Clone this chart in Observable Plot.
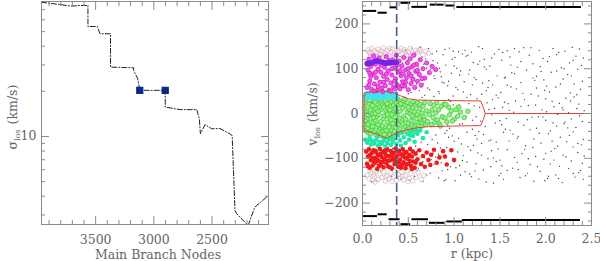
<!DOCTYPE html>
<html>
<head>
<meta charset="utf-8">
<script src="https://cdn.jsdelivr.net/npm/d3@7"></script>
<script src="https://cdn.jsdelivr.net/npm/@observablehq/plot@0.6"></script>
<style>
  html, body { margin: 0; padding: 0; background: #fff; }
  #wrap { display: flex; width: 600px; height: 261px; }
  #wrap svg { display: block; }
</style>
</head>
<body>
<div id="wrap"></div>
<script>
// ---------- LEFT PANEL DATA ----------
const nodes = [3964, 3814, 3714, 3628, 3566, 3566, 3485, 3463, 3386, 3372, 3372, 3173, 3173, 3138, 3121, 2902, 2902, 2774, 2631, 2609, 2600, 2560, 2503, 2432, 2346, 2327, 2303, 2289, 2190, 2133, 2015];
const sigma = [78.5, 75.9, 74.0, 74.7, 74.7, 54.1, 54.1, 48.4, 48.4, 48.4, 29.0, 28.7, 27.5, 24.2, 20.3, 20.3, 15.7, 15.1, 15.1, 13.1, 10.4, 12.0, 11.25, 11.3, 10.4, 10.15, 3.21, 3.06, 2.55, 3.38, 4.04];
const squareNodes = [3121, 2902];
const squareSigma = [20.3, 20.3];
const nodeMajorTicks = [3500, 3000, 2500];
const nodeMinorTicks = [2100, 2200, 2300, 2400, 2600, 2700, 2800, 2900, 3100, 3200, 3300, 3400, 3600, 3700, 3800, 3900];
const sigmaMajorTicks = [10];
const sigmaMinorTicks = [3, 4, 5, 6, 7, 8, 9, 20, 30, 40, 50, 60, 70];

// ---------- RIGHT PANEL DATA ----------
const rMajorTicks = [0, 0.5, 1, 1.5, 2, 2.5];
const rMinorTicks = [0.1, 0.2, 0.3, 0.4, 0.6, 0.7, 0.8, 0.9, 1.1, 1.2, 1.3, 1.4, 1.6, 1.7, 1.8, 1.9, 2.1, 2.2, 2.3, 2.4];
const vMajorTicks = [-200, -100, 0, 100, 200];
const vMinorTicks = [-240, -220, -180, -160, -140, -120, -80, -60, -40, -20, 20, 40, 60, 80, 120, 140, 160, 180, 220, 240];

const escTopR0 = [0.0, 0.17, 0.30, 0.42, 0.54, 0.74, 0.91, 1.03];
const escTopR1 = [0.155, 0.27, 0.38, 0.525, 0.71, 0.89, 1.01, 2.39];
const escTopV = [229, 225, 237, 247, 238, 243, 241, 238];
const escBotR0 = [0.0, 0.17, 0.29, 0.42, 0.54, 0.73, 0.92, 1.09];
const escBotR1 = [0.163, 0.27, 0.41, 0.525, 0.72, 0.9, 1.09, 2.38];
const escBotV = [-229, -225, -236, -247, -236, -244, -241, -238];

const rCut = [0.373];

const redTop = [[0.017,44],[0.04,47],[0.13,48],[0.2,52],[0.24,50],[0.3,48],[0.36,45],[0.42,39],[0.5,33],[0.6,30],[0.85,29],[1.29,28],[1.32,13],[1.34,0]];
const redBot = [[0.017,-38],[0.127,-44],[0.2,-50],[0.235,-53],[0.27,-55],[0.326,-48],[0.38,-43],[0.45,-38],[0.56,-33],[0.71,-29.5],[1.0,-28],[1.29,-27],[1.32,-13],[1.34,0]];
const redTail = [[2.5,0],[1.34,0]];

const blackDots = [
[0.47,142],[0.63,148],[0.81,139],[0.95,146],[1.12,141],[1.27,149],[1.49,143],[1.58,140],[1.76,147],[1.93,141],[2.08,145],[2.21,139],[2.37,144],[0.72,145],[1.05,138],[1.66,145],[2.29,148],
[0.41,127],[0.58,135],[0.69,122],[0.88,131],[1.01,125],[1.19,137],[1.33,121],[1.44,133],[1.61,126],[1.82,130],[1.97,123],[2.14,136],[2.33,128],[0.52,121],[1.09,133],[1.71,138],[2.41,124],[0.99,139],
[0.44,112],[0.61,104],[0.77,118],[0.91,108],[1.03,101],[1.21,114],[1.39,106],[1.52,119],[1.69,103],[1.86,111],[2.02,116],[2.17,102],[2.26,113],[2.39,107],[0.67,110],[1.28,117],[1.94,105],[0.84,101],
[0.39,93],[0.55,86],[0.74,98],[0.86,82],[1.07,95],[1.16,88],[1.35,99],[1.47,84],[1.63,91],[1.79,97],[1.9,83],[2.06,92],[2.24,87],[2.35,99],[0.97,90],[1.56,81],[2.12,95],[0.62,83],
[0.42,73],[0.66,67],[0.79,78],[0.93,62],[1.11,71],[1.24,76],[1.42,64],[1.55,79],[1.73,69],[1.88,74],[2.01,61],[2.19,77],[2.31,66],[2.4,72],[0.57,79],[1.31,68],[1.98,75],[0.87,70],
[0.5,44],[0.71,57],[0.83,49],[1.04,53],[1.18,42],[1.37,58],[1.51,47],[1.68,55],[1.84,43],[1.99,52],[2.11,59],[2.27,46],[2.38,54],[0.62,51],[1.46,41],[2.04,48],[1.62,59],
[0.46,33],[0.78,38],[0.94,31],[1.14,36],[1.36,24],[1.48,35],[1.59,22],[1.77,31],[1.92,39],[2.07,27],[2.22,34],[2.36,21],[0.65,36],[1.25,33],[1.67,28],[2.15,23],[2.31,37],
[0.81,12],[1.08,5],[1.22,17],[1.38,9],[1.53,14],[1.65,3],[1.81,18],[1.96,8],[2.09,15],[2.25,2],[2.34,11],[2.42,6],[0.99,19],[1.44,11],[1.73,16],[2.01,4],[2.18,13],
[0.88,-13],[1.13,-6],[1.29,-17],[1.41,-3],[1.57,-11],[1.7,-19],[1.85,-8],[2.0,-15],[2.13,-2],[2.28,-12],[2.4,-18],[0.73,-4],[1.02,-9],[1.5,-16],[1.92,-7],[2.21,-19],[2.37,-5],
[0.48,-32],[0.69,-27],[0.92,-38],[1.06,-24],[1.2,-35],[1.34,-29],[1.45,-21],[1.61,-37],[1.76,-26],[1.9,-33],[2.05,-39],[2.2,-23],[2.33,-31],[0.56,-22],[1.27,-40],[1.83,-36],[2.12,-28],
[0.4,-52],[0.6,-47],[0.76,-58],[0.9,-44],[1.05,-55],[1.23,-49],[1.4,-59],[1.54,-42],[1.7,-51],[1.87,-57],[2.03,-45],[2.16,-53],[2.3,-41],[2.41,-58],[0.98,-50],[1.64,-46],[2.26,-49],
[0.43,-71],[0.64,-64],[0.85,-77],[1.0,-62],[1.15,-74],[1.3,-67],[1.48,-79],[1.6,-61],[1.78,-72],[1.95,-66],[2.1,-78],[2.23,-63],[2.39,-70],[0.71,-69],[1.38,-61],[1.86,-76],[2.3,-75],[0.55,-62],
[0.37,-92],[0.59,-85],[0.8,-97],[0.97,-83],[1.1,-94],[1.26,-88],[1.43,-99],[1.58,-81],[1.74,-90],[1.89,-96],[2.06,-84],[2.19,-93],[2.35,-87],[1.18,-82],[1.66,-98],[2.0,-89],[2.42,-95],[0.68,-99],
[0.45,-108],[0.63,-116],[0.75,-103],[0.96,-119],[1.09,-105],[1.24,-112],[1.37,-101],[1.52,-117],[1.69,-109],[1.83,-114],[1.98,-102],[2.15,-118],[2.28,-106],[2.4,-111],[0.86,-110],[1.46,-107],[1.91,-119],[2.09,-104],
[0.38,-131],[0.53,-124],[0.7,-137],[0.87,-128],[1.02,-121],[1.17,-135],[1.32,-126],[1.49,-139],[1.64,-122],[1.8,-133],[1.94,-129],[2.11,-137],[2.25,-123],[2.36,-132],[1.12,-130],[1.58,-127],[2.03,-140],[0.61,-122],
[0.42,-146],[0.66,-152],[0.83,-144],[1.01,-150],[1.19,-141],[1.35,-153],[1.54,-147],[1.72,-143],[1.87,-151],[2.02,-145],[2.18,-154],[2.32,-142],[0.91,-148],[1.43,-155],[1.99,-150],[2.41,-147],[0.51,-149],
[0.12,-78],[0.2,-128],[0.28,-76],[0.15,-150],[0.25,-79],[0.06,-77],[0.32,-140],[0.33,-78],[0.1,-152],
[0.54,146],[0.76,133],[0.9,143],[1.15,130],[1.31,145],[1.53,136],[1.84,147],[2.12,131],
[0.49,118],[0.65,126],[0.82,113],[0.98,121],[1.13,128],[1.26,110],[1.41,124],[1.73,116],[2.04,127],[2.3,119],
[0.43,96],[0.6,109],[0.7,101],[0.85,93],[1.0,106],[1.17,97],[1.33,104],[1.62,108],[1.95,94],[2.2,100],
[0.47,88],[0.64,75],[0.78,84],[0.94,72],[1.06,86],[1.22,80],[1.38,73],[1.66,89],[1.86,79],[2.28,84],
[0.44,61],[0.59,66],[0.73,53],[0.89,68],[1.02,58],[1.2,64],[1.35,51],[1.58,63],[1.9,57],[2.16,66],
[0.53,47],[0.68,41],[0.84,45],[0.99,39],[1.1,48],[1.3,43],[1.42,31],[1.75,45],[2.0,33],[2.34,42],
[0.96,27],[1.16,22],[1.28,14],[1.55,25],[1.89,19],[2.27,28],[1.24,-7],[1.6,7],[1.97,-8],[2.19,8],
[0.93,-26],[1.09,-23],[1.2,-15],[1.52,-25],[1.8,-14],[2.08,-21],
[0.45,-44],[0.62,-39],[0.8,-48],[0.95,-33],[1.14,-42],[1.32,-47],[1.56,-35],[1.93,-44],[2.24,-32],
[0.49,-61],[0.67,-55],[0.82,-66],[0.94,-53],[1.08,-68],[1.25,-57],[1.46,-64],[1.69,-55],[2.07,-62],[2.35,-67],
[0.41,-84],[0.58,-73],[0.77,-88],[0.92,-76],[1.04,-86],[1.21,-71],[1.41,-83],[1.77,-80],[2.13,-73],
[0.5,-94],[0.66,-107],[0.83,-91],[0.99,-100],[1.14,-108],[1.3,-93],[1.5,-104],[1.81,-101],[2.22,-97],
[0.46,-121],[0.6,-127],[0.78,-113],[0.93,-125],[1.06,-116],[1.23,-128],[1.4,-119],[1.7,-125],[2.05,-113],[2.38,-127],
[0.57,-141],[0.74,-133],[0.89,-150],[1.07,-138],[1.27,-146],[1.51,-134],[1.78,-139],[2.14,-145],[2.3,-134]
];

const pinkTop = [[0.06,142],[0.08,135],[0.1,145],[0.12,130],[0.13,140],[0.15,136],[0.17,144],[0.19,131],[0.21,139],[0.23,146],[0.25,133],[0.27,141],[0.29,129],[0.31,137],[0.33,144],[0.35,132],[0.4,140],[0.42,145],[0.44,134],[0.46,142],[0.48,130],[0.5,138],[0.52,145],[0.55,133],[0.58,141],[0.6,136],[0.63,144],[0.66,131],[0.69,139],[0.72,135],[0.09,128],[0.16,128],[0.24,128],[0.38,136],[0.53,128],[0.07,138],[0.2,134],[0.3,145],[0.47,136],[0.62,140]];

const pinkBottom = [[0.05,-138],[0.07,-145],[0.09,-132],[0.11,-150],[0.13,-140],[0.15,-128],[0.17,-147],[0.19,-135],[0.21,-143],[0.23,-130],[0.25,-151],[0.27,-138],[0.29,-146],[0.31,-133],[0.33,-141],[0.35,-128],[0.37,-149],[0.39,-136],[0.41,-144],[0.43,-131],[0.45,-148],[0.47,-139],[0.49,-127],[0.51,-145],[0.53,-134],[0.55,-150],[0.58,-142],[0.61,-131],[0.64,-147],[0.67,-138],[0.08,-127],[0.14,-153],[0.2,-126],[0.26,-141],[0.32,-152],[0.38,-125],[0.44,-139],[0.5,-152],[0.56,-128],[0.12,-136]];

const magenta = [[0.05,58],[0.06,97],[0.07,121],[0.08,73],[0.09,105],[0.1,54],[0.11,88],[0.12,128],[0.13,66],[0.14,110],[0.15,80],[0.16,51],[0.17,99],[0.18,124],[0.19,70],[0.2,92],[0.21,57],[0.22,115],[0.23,83],[0.24,103],[0.25,62],[0.26,127],[0.27,76],[0.28,95],[0.29,52],[0.3,112],[0.31,68],[0.32,86],[0.33,120],[0.34,59],[0.35,101],[0.36,78],[0.37,130],[0.38,64],[0.39,93],[0.4,117],[0.41,55],[0.42,84],[0.43,106],[0.44,71],[0.45,125],[0.46,61],[0.47,97],[0.48,80],[0.49,113],[0.5,53],[0.51,89],[0.52,122],[0.53,67],[0.54,104],[0.55,76],[0.56,130],[0.57,58],[0.58,94],[0.59,110],[0.6,72],[0.62,87],[0.63,120],[0.64,63],[0.66,100],[0.68,79],[0.7,113],[0.73,91],[0.76,105],[0.8,98],[0.07,64],[0.09,83],[0.11,114],[0.14,92],[0.17,60],[0.2,108],[0.23,70],[0.26,88],[0.29,118],[0.32,100],[0.35,72],[0.38,108],[0.41,96],[0.44,88],[0.47,70],[0.5,100],[0.53,84],[0.56,108],[0.6,96],[0.65,78],[0.13,50],[0.22,49],[0.31,50],[0.05,110],[0.08,90],[0.43,62],[0.36,55]];

const purple = [[0.05,112],[0.07,113],[0.09,112],[0.11,114],[0.13,117],[0.15,118],[0.17,117],[0.19,116],[0.21,115],[0.23,114],[0.25,113],[0.27,113],[0.29,114],[0.31,113],[0.33,114],[0.35,115],[0.37,114],[0.06,111],[0.14,116],[0.26,112],[0.34,113]];

const cyan = [[0.03,38],[0.04,44],[0.05,41],[0.06,35],[0.07,46],[0.08,39],[0.09,43],[0.1,36],[0.11,45],[0.12,40],[0.13,34],[0.14,47],[0.15,42],[0.16,37],[0.17,44],[0.18,39],[0.19,46],[0.2,35],[0.21,41],[0.22,45],[0.23,38],[0.24,43],[0.25,36],[0.26,46],[0.27,40],[0.28,44],[0.29,37],[0.3,42],[0.31,45],[0.32,39],[0.33,43],[0.34,36],[0.35,41],[0.36,44],[0.37,39]];

const green = [
[0.02,-30],[0.02,12],[0.03,-8],[0.03,27],[0.04,-40],[0.04,3],[0.05,-19],[0.05,31],[0.06,-33],[0.06,15],[0.07,-4],[0.07,-44],[0.08,22],[0.08,-26],[0.09,8],[0.09,-12],[0.1,29],[0.1,-37],[0.11,-1],[0.11,18],[0.12,-22],[0.12,33],[0.13,-42],[0.13,6],[0.14,-15],[0.14,25],[0.15,-30],[0.15,11],[0.16,-7],[0.16,-47],[0.17,20],[0.17,-25],[0.18,32],[0.18,-2],[0.19,-36],[0.19,14],[0.2,-18],[0.2,26],[0.03,-17],[0.06,-24],[0.09,-45],[0.12,-9],[0.15,-48],[0.18,-40],[0.08,30],[0.11,-29],[0.14,0],[0.17,5],[0.2,-44],[0.05,-2],
[0.21,-50],[0.21,9],[0.22,-28],[0.22,30],[0.23,-11],[0.23,-40],[0.24,17],[0.24,-5],[0.25,-33],[0.25,28],[0.26,-52],[0.26,2],[0.27,-20],[0.27,22],[0.28,-44],[0.28,11],[0.29,-8],[0.29,32],[0.3,-27],[0.3,-48],[0.31,16],[0.31,-14],[0.32,26],[0.32,-37],[0.33,4],[0.33,-23],[0.34,19],[0.34,-45],[0.35,-3],[0.35,30],[0.36,-31],[0.36,10],[0.37,-16],[0.37,24],[0.38,-41],[0.38,1],[0.39,-24],[0.39,18],[0.4,-10],[0.4,29],[0.23,14],[0.26,-38],[0.29,-30],[0.32,-2],[0.35,-40],[0.38,33],[0.24,-47],[0.3,8],[0.36,-8],[0.27,-2],
[0.41,-35],[0.41,5],[0.42,22],[0.43,-19],[0.43,-42],[0.44,12],[0.45,-6],[0.45,28],[0.46,-29],[0.47,-13],[0.47,18],[0.48,-38],[0.49,3],[0.49,25],[0.5,-22],[0.51,9],[0.51,-33],[0.52,-1],[0.53,21],[0.53,-16],[0.54,-28],[0.55,13],[0.55,27],[0.56,-9],[0.57,-31],[0.57,4],[0.58,19],[0.59,-20],[0.6,-3],[0.6,24],[0.61,-26],[0.62,10],[0.63,-14],[0.63,20],[0.64,-29],[0.65,1],[0.66,16],[0.66,-21],[0.67,-7],[0.68,25],[0.69,-24],[0.7,6],[0.44,-24],[0.5,14],[0.56,-40],[0.62,-10],[0.46,32],[0.54,-5],[0.58,-37],[0.68,-15],
[0.71,-18],[0.73,-2],[0.74,22],[0.76,8],[0.78,18],[0.79,-20],[0.81,24],[0.82,-14],[0.84,-23],[0.86,16],[0.87,-7],[0.89,21],[0.9,-10],[0.92,-19],[0.94,14],[0.95,-3],[0.97,6],[1.0,-13],[1.02,9],[1.04,-6],[1.07,3],[1.11,-9],[1.15,5],[0.75,-25],[0.8,1],[0.85,-28],[0.91,20],[0.98,-17],[1.05,15],[0.77,-9],[0.83,8]
];

const aqua = [[0.03,-58],[0.05,-65],[0.07,-60],[0.09,-70],[0.11,-62],[0.13,-67],[0.15,-59],[0.17,-72],[0.19,-64],[0.21,-68],[0.23,-61],[0.25,-74],[0.27,-66],[0.29,-58],[0.31,-70],[0.33,-63],[0.35,-56],[0.37,-68],[0.39,-48],[0.41,-60],[0.43,-42],[0.45,-53],[0.47,-66],[0.49,-45],[0.51,-58],[0.53,-40],[0.55,-50],[0.57,-63],[0.6,-45],[0.63,-38],[0.66,-55],[0.7,-42],[0.08,-55],[0.16,-53],[0.24,-57],[0.32,-55],[0.42,-72],[0.52,-48],[0.58,-38]];

const red = [[0.04,-85],[0.05,-112],[0.06,-96],[0.07,-80],[0.08,-121],[0.09,-104],[0.1,-89],[0.11,-116],[0.12,-82],[0.13,-99],[0.14,-110],[0.15,-87],[0.16,-124],[0.17,-93],[0.18,-106],[0.19,-79],[0.2,-114],[0.21,-97],[0.22,-86],[0.23,-120],[0.24,-102],[0.25,-90],[0.26,-111],[0.27,-81],[0.28,-118],[0.29,-95],[0.3,-105],[0.31,-84],[0.32,-123],[0.33,-100],[0.34,-88],[0.35,-113],[0.36,-78],[0.37,-108],[0.38,-94],[0.39,-119],[0.4,-83],[0.41,-103],[0.42,-91],[0.43,-115],[0.44,-80],[0.45,-109],[0.46,-98],[0.47,-122],[0.48,-86],[0.49,-101],[0.5,-112],[0.51,-92],[0.52,-79],[0.53,-117],[0.54,-96],[0.55,-85],[0.56,-107],[0.57,-121],[0.58,-90],[0.6,-102],[0.62,-82],[0.64,-113],[0.66,-95],[0.68,-119],[0.7,-87],[0.72,-104],[0.75,-92],[0.78,-81],[0.81,-110],[0.84,-98],[0.88,-84],[0.92,-114],[0.97,-82],[1.0,-104],[0.06,-118],[0.1,-100],[0.14,-83],[0.18,-117],[0.22,-108],[0.26,-95],[0.3,-120],[0.34,-103],[0.38,-84],[0.42,-121],[0.46,-88],[0.5,-96],[0.54,-124],[0.58,-110],[0.08,-93],[0.16,-102],[0.24,-83],[0.32,-92],[0.4,-110],[0.48,-114],[0.12,-107],[0.2,-90],[0.28,-105],[0.36,-98],[0.44,-95],[0.52,-106],[0.9,-96],[0.74,-115]];

// ---------- STYLES ----------
const FRAME = "#8a8a8a";
const TEXT = "#666";
const FONT = "DejaVu Serif";
const baseStyle = {fontFamily: FONT, fontSize: "12.5px", color: TEXT, background: "#fff", overflow: "visible"};
const minus = d => (d < 0 ? "\u2212" + Math.abs(d) : String(d));

function tickMarks(axis, anchor, major, minor) {
  const A = axis === "x" ? Plot.axisX : Plot.axisY;
  return [
    A({ticks: minor, anchor, tickSize: -4, fill: "none", stroke: FRAME, label: null}),
    A({ticks: major, anchor, tickSize: -8, fill: "none", stroke: FRAME, label: null})
  ];
}

// ---------- LEFT PANEL ----------
const lineData = nodes.map((n, i) => ({n, s: sigma[i]}));
const sqData = squareNodes.map((n, i) => ({n, s: squareSigma[i]}));

const left = Plot.plot({
  width: 300, height: 261,
  marginLeft: 41, marginRight: 32, marginTop: 1, marginBottom: 37,
  style: baseStyle,
  x: {domain: [3965, 2015]},
  y: {type: "log", domain: [2.59, 79.4]},
  marks: [
    Plot.line(lineData, {x: "n", y: "s", stroke: "#222", strokeWidth: 1, strokeDasharray: "5,2,1,2", clip: true}),
    Plot.dot(sqData, {x: "n", y: "s", symbol: "square", r: 4.1, fill: "#0c2a84", stroke: "none"}),
    Plot.frame({stroke: FRAME}),
    ...tickMarks("x", "bottom", nodeMajorTicks, nodeMinorTicks),
    ...tickMarks("x", "top", nodeMajorTicks, nodeMinorTicks),
    ...tickMarks("y", "left", sigmaMajorTicks, sigmaMinorTicks),
    ...tickMarks("y", "right", sigmaMajorTicks, sigmaMinorTicks),
    Plot.axisX({ticks: nodeMajorTicks, anchor: "bottom", tickSize: 0, tickPadding: 11, tickFormat: d => String(d), label: null, fill: TEXT}),
    Plot.axisY({ticks: sigmaMajorTicks, anchor: "left", tickSize: 0, tickPadding: 5, tickFormat: d => String(d), label: null, fill: TEXT})
  ]
});

// ---------- RIGHT PANEL ----------
const escTop = escTopR0.map((r0, i) => ({r0, r1: escTopR1[i], v: escTopV[i]}));
const escBot = escBotR0.map((r0, i) => ({r0, r1: escBotR1[i], v: escBotV[i]}));
const redPath = [...redTail, ...redTop.slice().reverse(), ...redBot];
const X = d => d[0], Y = d => d[1];

const right = Plot.plot({
  width: 300, height: 261,
  marginLeft: 62, marginRight: 9, marginTop: 1, marginBottom: 36,
  style: baseStyle,
  x: {domain: [0, 2.5]},
  y: {domain: [-250, 250]},
  marks: [
    Plot.dot(blackDots, {x: X, y: Y, r: 0.7, fill: "#444", stroke: "none"}),
    Plot.dot(pinkTop, {x: X, y: Y, r: 2.3, fill: "none", stroke: "#dcaabb", strokeWidth: 0.7}),
    Plot.dot(pinkBottom, {x: X, y: Y, r: 2.3, fill: "none", stroke: "#d2b8ba", strokeWidth: 0.7}),
    Plot.dot(green, {x: X, y: Y, r: 2.3, fill: "#98ee86", stroke: "#2fc82f", strokeWidth: 0.7}),
    Plot.dot(cyan, {x: X, y: Y, r: 2.5, fill: "#3fe3f2", stroke: "none"}),
    Plot.dot(aqua, {x: X, y: Y, r: 2.3, fill: "#22e6a6", stroke: "none"}),
    Plot.dot(red, {x: X, y: Y, r: 2.3, fill: "#f01a1a", stroke: "none"}),
    Plot.dot(magenta, {x: X, y: Y, r: 2.1, fill: "#f057ea", stroke: "#d414c8", strokeWidth: 0.8}),
    Plot.dot(purple, {x: X, y: Y, r: 2.6, fill: "#7424e4", stroke: "none"}),
    Plot.line(redPath, {x: X, y: Y, stroke: "#e5413b", strokeWidth: 1}),
    Plot.ruleY(escTop, {x1: "r0", x2: "r1", y: "v", stroke: "#000", strokeWidth: 2}),
    Plot.ruleY(escBot, {x1: "r0", x2: "r1", y: "v", stroke: "#000", strokeWidth: 2}),
    Plot.ruleX(rCut, {stroke: "#4e5a88", strokeWidth: 1.6, strokeDasharray: "9,4"}),
    Plot.frame({stroke: FRAME}),
    ...tickMarks("x", "bottom", rMajorTicks, rMinorTicks),
    ...tickMarks("x", "top", rMajorTicks, rMinorTicks),
    ...tickMarks("y", "left", vMajorTicks, vMinorTicks),
    ...tickMarks("y", "right", vMajorTicks, vMinorTicks),
    Plot.axisX({ticks: rMajorTicks, anchor: "bottom", tickSize: 0, tickPadding: 9, tickFormat: d3.format(".1f"), label: null, fill: TEXT}),
    Plot.axisY({ticks: vMajorTicks, anchor: "left", tickSize: 0, tickPadding: 4, tickFormat: minus, label: null, fill: TEXT})
  ]
});

// ---------- AXIS TITLES ----------
function addTitles(svg, xTitle, xPos, yMain, yPos) {
  const s = d3.select(svg);
  s.append("text")
    .attr("x", xPos[0]).attr("y", xPos[1])
    .attr("text-anchor", "middle")
    .attr("fill", TEXT).style("font-family", FONT).style("font-size", "12.5px")
    .text(xTitle);
  const t = s.append("text")
    .attr("transform", `translate(${yPos[0]},${yPos[1]}) rotate(-90)`)
    .attr("text-anchor", "middle")
    .attr("fill", TEXT).style("font-family", FONT).style("font-size", "12.5px");
  t.append("tspan").text(yMain);
  t.append("tspan").attr("dy", 3).style("font-size", "8px").text("los");
  t.append("tspan").attr("dy", -3).attr("dx", 5).text("(km/s)");
}
addTitles(left, "Main Branch Nodes", [158, 259], "\u03c3", [17, 117]);
addTitles(right, "r (kpc)", [172, 258], "v", [17, 114]);

document.getElementById("wrap").append(left, right);
</script>
</body>
</html>
